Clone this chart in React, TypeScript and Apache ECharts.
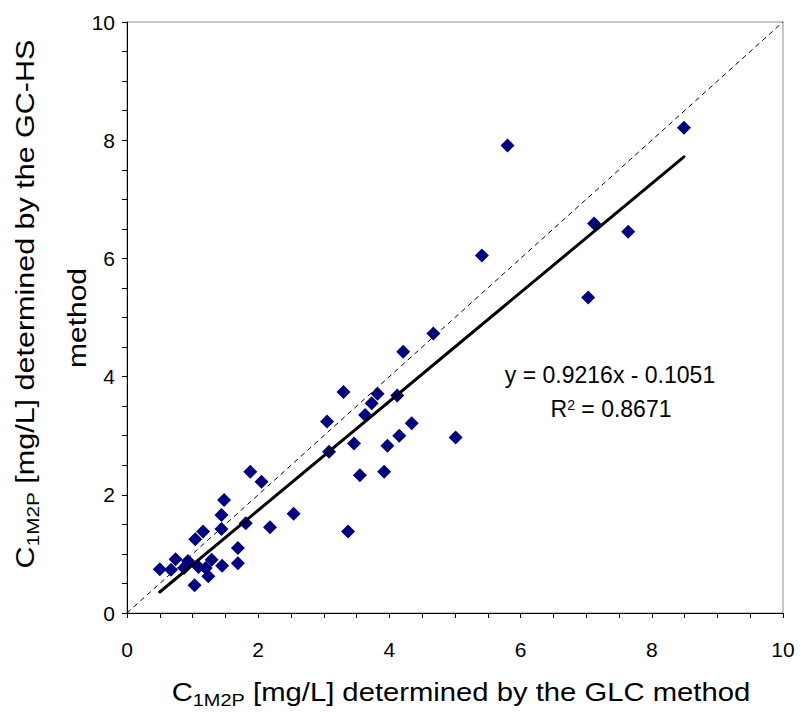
import React, { useEffect, useRef } from "react";
import * as echarts from "echarts";

// C1M2P by GLC method (x) and by GC-HS method (y), mg/L
const glcValues = [
  0.5, 0.67, 0.74, 0.87, 0.93, 1.03, 1.04, 1.09, 1.16, 1.2, 1.24, 1.29, 1.45, 1.44, 1.44, 1.48,
  1.69, 1.69, 1.81, 1.88, 2.05, 2.18, 2.54, 3.05, 3.08, 3.3, 3.46, 3.37, 3.55, 3.63, 3.73, 3.82,
  3.92, 3.97, 4.12, 4.15, 4.21, 4.34, 4.67, 5.01, 5.41, 5.8, 7.03, 7.12, 7.64, 8.49,
];
const gchsValues = [
  0.74, 0.73, 0.91, 0.76, 0.88, 0.47, 1.25, 0.78, 1.38, 0.76, 0.62, 0.9, 0.8, 1.42, 1.66, 1.91,
  1.1, 0.84, 1.52, 2.39, 2.22, 1.45, 1.68, 3.24, 2.73, 3.74, 2.87, 1.38, 2.33, 3.35, 3.55, 3.71,
  2.39, 2.83, 3.68, 3.0, 4.42, 3.21, 4.73, 2.97, 6.05, 7.91, 5.34, 6.59, 6.45, 8.21,
];
const axisMin = 0;
const axisMax = 10;
const axisStep = 2;
const fitSlope = 0.9216;
const fitIntercept = -0.1051;
const equationLabel = "y = 0.9216x - 0.1051";
const r2Label = "0.8671";
const xTitle = ["C", "1M2P", " [mg/L] determined by the GLC method"];
const yTitle = ["C", "1M2P", " [mg/L] determined by the GC-HS", "method"];

const FONT = "'Liberation Sans', Arial, sans-serif";

export default function App() {
  const ref = useRef<HTMLDivElement>(null);
  useEffect(() => {
    const chart = echarts.init(ref.current!, null, { renderer: "svg" });
    const points = glcValues.map((x, i) => [x, gchsValues[i]]);
    const xmin = Math.min(...glcValues);
    const xmax = Math.max(...glcValues);
    const fit = [
      [xmin, fitSlope * xmin + fitIntercept],
      [xmax, fitSlope * xmax + fitIntercept],
    ];
    const axisCommon = {
      type: "value",
      min: axisMin,
      max: axisMax,
      interval: axisStep,
      axisLine: { show: true, onZero: false, lineStyle: { color: "#000", width: 1 } },
      axisTick: { show: true, inside: false, length: 5, lineStyle: { color: "#000", width: 1 } },
      minorTick: { show: true, splitNumber: 4, length: 5, lineStyle: { color: "#000", width: 1 } },
      splitLine: { show: false },
      minorSplitLine: { show: false },
    };
    const rich = (size: number, sub: number) => ({
      a: { fontSize: size, fontFamily: FONT, fill: "#000", verticalAlign: "bottom", padding: [0, 0, 4, 0] },
      s: { fontSize: sub, fontFamily: FONT, fill: "#000", verticalAlign: "bottom" },
    });
    chart.setOption({
      animation: false,
      grid: {
        left: 127,
        right: 17,
        top: 22,
        bottom: 100,
        show: true,
        borderColor: "#8c8c8c",
        borderWidth: 1,
        backgroundColor: "transparent",
      },
      xAxis: {
        ...axisCommon,
        axisLabel: { color: "#000", fontSize: 21, fontFamily: FONT, margin: 26 },
      },
      yAxis: {
        ...axisCommon,
        axisLabel: { color: "#000", fontSize: 21, fontFamily: FONT, margin: 12 },
      },
      series: [
        {
          type: "line",
          data: [
            [axisMin, axisMin],
            [axisMax, axisMax],
          ],
          showSymbol: false,
          symbol: "none",
          lineStyle: { color: "#000", width: 1, type: [5, 4] },
          z: 1,
          silent: true,
        },
        {
          type: "scatter",
          data: points,
          symbol: "diamond",
          symbolSize: 14,
          itemStyle: { color: "#000080", opacity: 1 },
          z: 2,
        },
        {
          type: "line",
          data: fit,
          showSymbol: false,
          symbol: "none",
          lineStyle: { color: "#000", width: 3, cap: "round" },
          z: 3,
          silent: true,
        },
      ],
      graphic: [
        {
          type: "text",
          x: 461,
          y: 694,
          scaleX: 1.17,
          style: {
            text: `{a|${xTitle[0]}}{s|${xTitle[1]}}{a|${xTitle[2]}}`,
            rich: rich(25, 17),
            align: "center",
            verticalAlign: "middle",
          },
        },
        {
          type: "text",
          x: 27,
          y: 304,
          rotation: Math.PI / 2,
          scaleX: 1.22,
          style: {
            text: `{a|${yTitle[0]}}{s|${yTitle[1]}}{a|${yTitle[2]}}`,
            rich: rich(25, 17),
            align: "center",
            verticalAlign: "middle",
          },
        },
        {
          type: "text",
          x: 77,
          y: 318,
          rotation: Math.PI / 2,
          scaleX: 1.2,
          style: {
            text: yTitle[3],
            fontSize: 25,
            fontFamily: FONT,
            fill: "#000",
            align: "center",
            verticalAlign: "middle",
          },
        },
        {
          type: "text",
          x: 610,
          y: 375,
          style: {
            text: equationLabel,
            fontSize: 23,
            fontFamily: FONT,
            fill: "#000",
            align: "center",
            verticalAlign: "middle",
          },
        },
        {
          type: "text",
          x: 611,
          y: 409,
          style: {
            text: `{a|R}{p|2}{a| = ${r2Label}}`,
            rich: {
              a: { fontSize: 23, fontFamily: FONT, fill: "#000", verticalAlign: "bottom" },
              p: { fontSize: 14, fontFamily: FONT, fill: "#000", verticalAlign: "top" },
            },
            align: "center",
            verticalAlign: "middle",
          },
        },
      ],
    });
    return () => chart.dispose();
  }, []);
  return (
    <div
      ref={ref}
      style={{ position: "absolute", left: 0, top: 0, width: 800, height: 713 }}
    />
  );
}
